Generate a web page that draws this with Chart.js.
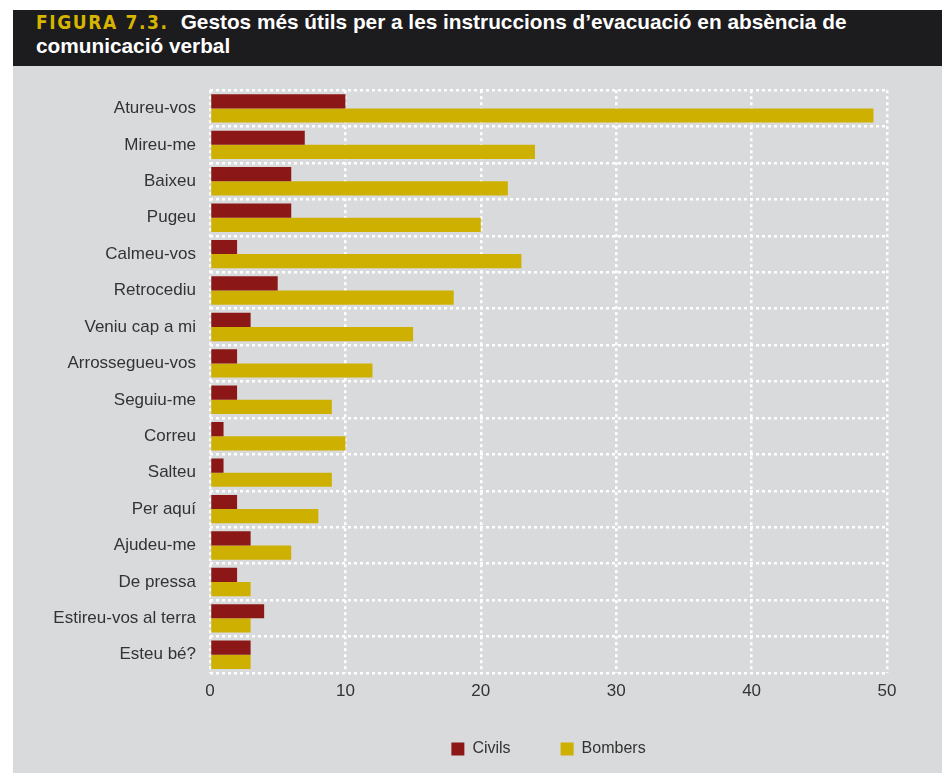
<!DOCTYPE html>
<html lang="ca">
<head>
    <meta charset="UTF-8">
    <title>Figura 7.3</title>
    <script src="https://cdn.jsdelivr.net/npm/chart.js"></script>
    <style>
        body { margin: 0; background: #ffffff; width: 942px; height: 773px; overflow: hidden; position: relative; }
        .titlebar {
            position: absolute; left: 13px; top: 10px; width: 929px; height: 56px;
            background: #1c1b1d; color: #ffffff; box-sizing: border-box;
            padding: 0 0 0 23px;
            font-family: "Liberation Sans", Arial, sans-serif; font-weight: bold; font-size: 20.8px; line-height: 24px;
        }
        .titlebar .fig {
            color: #d6b400; font-family: "DejaVu Sans Condensed", "DejaVu Sans", sans-serif;
            font-size: 19px; letter-spacing: 1.6px; margin-right: 12px;
        }
        .panel { position: absolute; left: 13px; top: 66px; width: 929px; height: 707px; background: #d9dadc; }
        canvas { position: absolute; left: 0; top: 0; }
    </style>
</head>
<body>
    <div class="titlebar">
        <span class="fig">FIGURA 7.3.</span>Gestos més útils per a les instruccions d’evacuació en absència de<br>comunicació verbal
    </div>
    <div class="panel">
        <canvas id="chart" width="929" height="707"></canvas>
    </div>

    <script>
        const categories = [
            'Atureu-vos', 'Mireu-me', 'Baixeu', 'Pugeu', 'Calmeu-vos', 'Retrocediu',
            'Veniu cap a mi', 'Arrossegueu-vos', 'Seguiu-me', 'Correu', 'Salteu',
            'Per aquí', 'Ajudeu-me', 'De pressa', 'Estireu-vos al terra', 'Esteu bé?'
        ];
        const civils  = [10, 7, 6, 6, 2, 5, 3, 2, 2, 1, 1, 2, 3, 2, 4, 3];
        const bombers = [49, 24, 22, 20, 23, 18, 15, 12, 9, 10, 9, 8, 6, 3, 3, 3];
        const xTicks = [0, 10, 20, 30, 40, 50];

        const textColor = '#333333';
        const font = 'Liberation Sans';

        new Chart(document.getElementById('chart'), {
            type: 'bar',
            data: {
                labels: categories,
                datasets: [
                    { label: 'Civils', data: civils, backgroundColor: '#8b1816' },
                    { label: 'Bombers', data: bombers, backgroundColor: '#ceb000' }
                ]
            },
            options: {
                indexAxis: 'y',
                responsive: false,
                animation: false,
                categoryPercentage: 0.78,
                barPercentage: 1.0,
                layout: { padding: { top: 22, right: 55, left: 0, bottom: 6 } },
                scales: {
                    x: {
                        min: 0, max: 50,
                        afterBuildTicks: (scale) => { scale.ticks = xTicks.map(v => ({ value: v })); },
                        afterFit: (scale) => { scale.height = 58; },
                        grid: { color: '#ffffff', lineWidth: 2.5, drawTicks: false },
                        border: { display: false, dash: [3, 3] },
                        ticks: { color: textColor, font: { family: font, size: 17 }, padding: 8 }
                    },
                    y: {
                        afterFit: (scale) => { scale.width = 197; },
                        grid: { color: '#ffffff', lineWidth: 2.5, drawTicks: false, offset: true },
                        border: { display: false, dash: [3, 3] },
                        ticks: { color: textColor, font: { family: font, size: 17 }, padding: 14 }
                    }
                },
                plugins: {
                    legend: {
                        position: 'bottom',
                        fullSize: false,
                        labels: {
                            boxWidth: 13, boxHeight: 13, padding: 10,
                            color: textColor, font: { family: font, size: 16 },
                            // widen the gap after the first entry with trailing spaces
                            generateLabels: (chart) => Chart.defaults.plugins.legend.labels.generateLabels(chart)
                                .map((item, i) => Object.assign(item, { text: i === 0 ? item.text + '         ' : item.text }))
                        }
                    },
                    tooltip: { enabled: false }
                }
            }
        });
    </script>
</body>
</html>
